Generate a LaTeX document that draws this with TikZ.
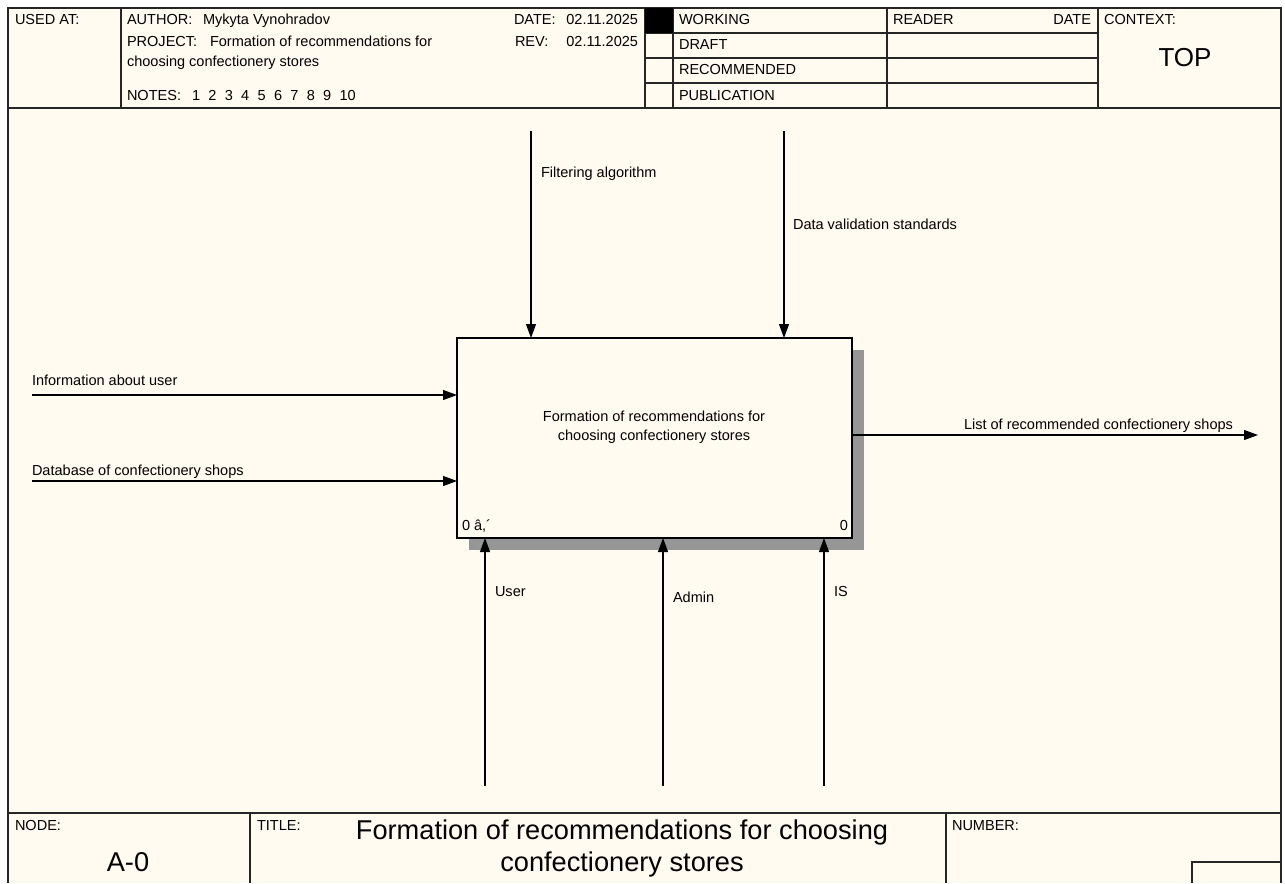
\documentclass[tikz,border=0pt]{standalone}
\usepackage{fontspec}
\setmainfont{Liberation Sans}
\usetikzlibrary{arrows.meta}
\definecolor{paper}{RGB}{255,251,240}
\definecolor{shadowgray}{RGB}{150,150,150}
\begin{document}
\begin{tikzpicture}[x=0.75pt,y=-0.75pt,
  every node/.style={inner sep=0pt,outer sep=0pt,font=\fontsize{10.9}{13}\selectfont},
  lbl/.style={anchor=west,text height=11pt,text depth=2.2pt},
  rlbl/.style={anchor=east,text height=11pt,text depth=2.2pt},
  rule/.style={line width=1.1pt,draw=black!85},
  thin/.style={line width=0.8pt,draw=black!85},
  flow/.style={line width=0.8pt,-{Triangle[length=10.5pt,width=7.5pt]}},
  big/.style={font=\fontsize{20.4}{24}\selectfont}]
% canvas and sheet
\fill[white] (0,0) rectangle (1285,883);
\useasboundingbox (0,0) rectangle (1285,883);
\fill[paper] (8,8) rectangle (1281,883);
\draw[rule] (8,883) -- (8,8) -- (1281,8) -- (1281,883);
% header block
\draw[rule] (8,108) -- (1281,108);
\draw[thin] (121,8) -- (121,108);
\draw[thin] (645,8) -- (645,108);
\draw[thin] (673,8) -- (673,108);
\draw[thin] (887,8) -- (887,108);
\draw[thin] (1098,8) -- (1098,108);
\foreach \yy in {33,58,83} \draw[thin] (645,\yy) -- (1098,\yy);
\fill[black] (645,8) rectangle (673,33);
\node[lbl] (usedat) at (15,19) {USED AT:};
\node[lbl] (author) at (127,19) {AUTHOR:};
\node[lbl] (authorv) at (203,19) {Mykyta Vynohradov};
\node[lbl] (project) at (127,41) {PROJECT:};
\node[lbl] (projectv) at (210,41) {Formation of recommendations for};
\node[lbl] (project2) at (127,61) {choosing confectionery stores};
\node[lbl] (notes) at (127,95) {NOTES:};
\foreach \k/\xx in {1/192,2/208.4,3/224.8,4/241.2,5/257.6,6/274,7/290.4,8/306.8,9/323.2,10/339.6}
  \node[lbl] (note\k) at (\xx,95) {\k};
\node[lbl] (date) at (514,19) {DATE:};
\node[rlbl] (datev) at (638,19) {02.11.2025};
\node[lbl] (rev) at (515,41) {REV:};
\node[rlbl] (revv) at (638,41) {02.11.2025};
\node[lbl] (working) at (679,19) {WORKING};
\node[lbl] (draft) at (679,44) {DRAFT};
\node[lbl] (recom) at (679,69) {RECOMMENDED};
\node[lbl] (publ) at (679,95) {PUBLICATION};
\node[lbl] (reader) at (893,19) {READER};
\node[rlbl] (rdate) at (1091,19) {DATE};
\node[lbl] (context) at (1104,19) {CONTEXT:};
\node[font=\fontsize{19.5}{24}\selectfont] (top) at (1185,58) {TOP};
% footer block
\draw[rule] (8,813) -- (1281,813);
\draw[thin] (250,813) -- (250,883);
\draw[thin] (946,813) -- (946,883);
\draw[thin] (1192,883) -- (1192,862) -- (1281,862);
\node[lbl] (nodelbl) at (15,825) {NODE:};
\node[big] (nodeid) at (128,862) {A-0};
\node[lbl] (titlelbl) at (257,825) {TITLE:};
\node[big,align=center] (title) at (622,848.5) {Formation of recommendations for choosing\\[-0.5pt]confectionery stores};
\node[lbl] (numlbl) at (952,825) {NUMBER:};
% activity box with its shadow
\fill[shadowgray] (852,350) rectangle (864,550);
\fill[shadowgray] (469,538) rectangle (864,550);
\node[draw=black,line width=1.5pt,fill=paper,minimum width=395*0.75pt,minimum height=200*0.75pt,anchor=north west] (act) at (457,338) {};
\node[align=center] (acttext) at (654,427.5) {Formation of recommendations for\\[1.2pt]choosing confectionery stores};
\node[lbl] (actnum) at (462,525) {0 â,´};
\node[rlbl] (actnum2) at (848,525) {0};
% controls
\coordinate (c1) at (531,131);
\coordinate (c2) at (784,131);
\draw[flow] (c1) -- (c1 |- act.north);
\draw[flow] (c2) -- (c2 |- act.north);
\node[lbl] (c1l) at (541,172) {Filtering algorithm};
\node[lbl] (c2l) at (793,224) {Data validation standards};
% inputs
\coordinate (i1) at (32,395);
\coordinate (i2) at (32,481);
\draw[flow] (i1) -- (i1 -| act.west);
\draw[flow] (i2) -- (i2 -| act.west);
\node[lbl] (i1l) at (32,380) {Information about user};
\node[lbl] (i2l) at (32,470) {Database of confectionery shops};
% output
\coordinate (o1) at (1258,435);
\draw[flow] (o1 -| act.east) -- (o1);
\node[rlbl] (o1l) at (1233,424) {List of recommended confectionery shops};
% mechanisms
\coordinate (m1) at (485,786);
\coordinate (m2) at (663,786);
\coordinate (m3) at (824,786);
\draw[flow] (m1) -- (m1 |- act.south);
\draw[flow] (m2) -- (m2 |- act.south);
\draw[flow] (m3) -- (m3 |- act.south);
\node[lbl] (m1l) at (495,591) {User};
\node[lbl] (m2l) at (673,597) {Admin};
\node[lbl] (m3l) at (834,591) {IS};
\end{tikzpicture}
\end{document}
